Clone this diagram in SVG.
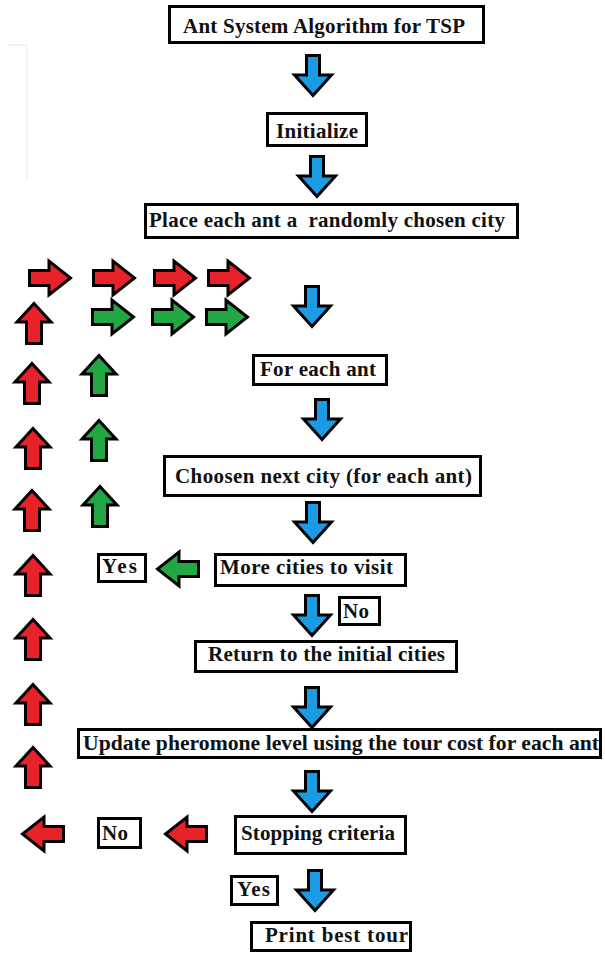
<svg xmlns="http://www.w3.org/2000/svg" width="605" height="953" viewBox="0 0 605 953">
  <style>
    .box rect { fill: #ffffff; stroke: #000000; stroke-width: 3; }
    .box text { font-family: "Liberation Serif", "Times New Roman", serif; font-weight: bold; font-size: 21px; fill: #111111; }
    .arr { stroke: #000000; stroke-width: 3; stroke-linejoin: miter; }
    .blue { fill: #1b9be3; }
    .red { fill: #e8222b; }
    .green { fill: #23a744; }
  </style>
  <defs>
    <!-- block arrows, drawn at the origin -->
    <path id="down" d="M-6.5,1.5 H6.5 V21 H18.5 L0,41.5 L-18.5,21 H-6.5 Z"/>
    <path id="up" d="M0,1.5 L17,20 H7.5 V41.5 H-7.5 V20 H-17 Z"/>
    <path id="right" d="M1.5,-7.5 H21 V-17 L42.5,0 L21,17 V7.5 H1.5 Z"/>
    <path id="left" d="M42.5,-7.5 H23 V-17 L1.5,0 L23,17 V7.5 H42.5 Z"/>
  </defs>

  <rect width="605" height="953" fill="#ffffff"/>
  <!-- faint margin rule -->
  <path d="M8,45 H27 V180" fill="none" stroke="#f4f4f4" stroke-width="2"/>

  <g id="connectors">
    <!-- main flow (blue) -->
    <use href="#down" class="arr blue" transform="translate(313,54)"/>
    <use href="#down" class="arr blue" transform="translate(317,155)"/>
    <use href="#down" class="arr blue" transform="translate(312,285)"/>
    <use href="#down" class="arr blue" transform="translate(322,398)"/>
    <use href="#down" class="arr blue" transform="translate(313,501)"/>
    <use href="#down" class="arr blue" transform="translate(312,594)"/>
    <use href="#down" class="arr blue" transform="translate(312,686)"/>
    <use href="#down" class="arr blue" transform="translate(312,770)"/>
    <use href="#down" class="arr blue" transform="translate(315,869)"/>

    <!-- inner loop (green) -->
    <use href="#left" class="arr green" transform="translate(156,569)"/>
    <use href="#up" class="arr green" transform="translate(100,485)"/>
    <use href="#up" class="arr green" transform="translate(99,419)"/>
    <use href="#up" class="arr green" transform="translate(99,354)"/>
    <use href="#right" class="arr green" transform="translate(91,317)"/>
    <use href="#right" class="arr green" transform="translate(151,317)"/>
    <use href="#right" class="arr green" transform="translate(205,317)"/>

    <!-- outer loop (red) -->
    <use href="#left" class="arr red" transform="translate(164,834)"/>
    <use href="#left" class="arr red" transform="translate(21,834)"/>
    <use href="#up" class="arr red" transform="translate(33,746)"/>
    <use href="#up" class="arr red" transform="translate(33,683)"/>
    <use href="#up" class="arr red" transform="translate(33,618)"/>
    <use href="#up" class="arr red" transform="translate(33,554)"/>
    <use href="#up" class="arr red" transform="translate(32,489)"/>
    <use href="#up" class="arr red" transform="translate(33,427)"/>
    <use href="#up" class="arr red" transform="translate(32,362)"/>
    <use href="#up" class="arr red" transform="translate(34,302)"/>
    <use href="#right" class="arr red" transform="translate(28,278)"/>
    <use href="#right" class="arr red" transform="translate(92,278)"/>
    <use href="#right" class="arr red" transform="translate(153,278)"/>
    <use href="#right" class="arr red" transform="translate(207,278)"/>
  </g>

  <g id="title" class="box">
    <rect x="169.5" y="6.5" width="314" height="36"/>
    <text x="183" y="33" textLength="282">Ant System Algorithm for TSP</text>
  </g>
  <g id="initialize" class="box">
    <rect x="267.5" y="113.5" width="99" height="32"/>
    <text x="276" y="138" textLength="82">Initialize</text>
  </g>
  <g id="place-ants" class="box">
    <rect x="145.5" y="204.5" width="372" height="33"/>
    <text x="149" y="227" textLength="356" xml:space="preserve">Place each ant a  randomly chosen city</text>
  </g>
  <g id="for-each-ant" class="box">
    <rect x="253.5" y="355.5" width="133" height="29"/>
    <text x="260" y="376" textLength="116">For each ant</text>
  </g>
  <g id="choose-next-city" class="box">
    <rect x="164.5" y="456.5" width="316" height="39"/>
    <text x="175" y="483" textLength="297">Choosen next city (for each ant)</text>
  </g>
  <g id="more-cities" class="box">
    <rect x="215.5" y="554.5" width="190" height="31"/>
    <text x="220" y="574" textLength="173">More cities to visit</text>
  </g>
  <g id="yes-more" class="box">
    <rect x="98.5" y="554.5" width="47" height="27"/>
    <text x="102" y="573" textLength="35">Yes</text>
  </g>
  <g id="no-more" class="box">
    <rect x="339.5" y="597.5" width="40" height="27"/>
    <text x="343" y="618" textLength="26">No</text>
  </g>
  <g id="return-initial" class="box">
    <rect x="195.5" y="641.5" width="261" height="30"/>
    <text x="208" y="661" textLength="237">Return to the initial cities</text>
  </g>
  <g id="update-pheromone" class="box">
    <rect x="78.5" y="729.5" width="522" height="28"/>
    <text x="83" y="750" textLength="516" lengthAdjust="spacingAndGlyphs">Update pheromone level using the tour cost for each ant</text>
  </g>
  <g id="stopping-criteria" class="box">
    <rect x="235.5" y="816.5" width="170" height="37"/>
    <text x="241" y="840" textLength="154">Stopping criteria</text>
  </g>
  <g id="no-stop" class="box">
    <rect x="98.5" y="818.5" width="42" height="29"/>
    <text x="102" y="840" textLength="26">No</text>
  </g>
  <g id="yes-stop" class="box">
    <rect x="231.5" y="876.5" width="46" height="28"/>
    <text x="237" y="896" textLength="33">Yes</text>
  </g>
  <g id="print-best" class="box">
    <rect x="251.5" y="922.5" width="159" height="28"/>
    <text x="265" y="942" textLength="143">Print best tour</text>
  </g>
</svg>
